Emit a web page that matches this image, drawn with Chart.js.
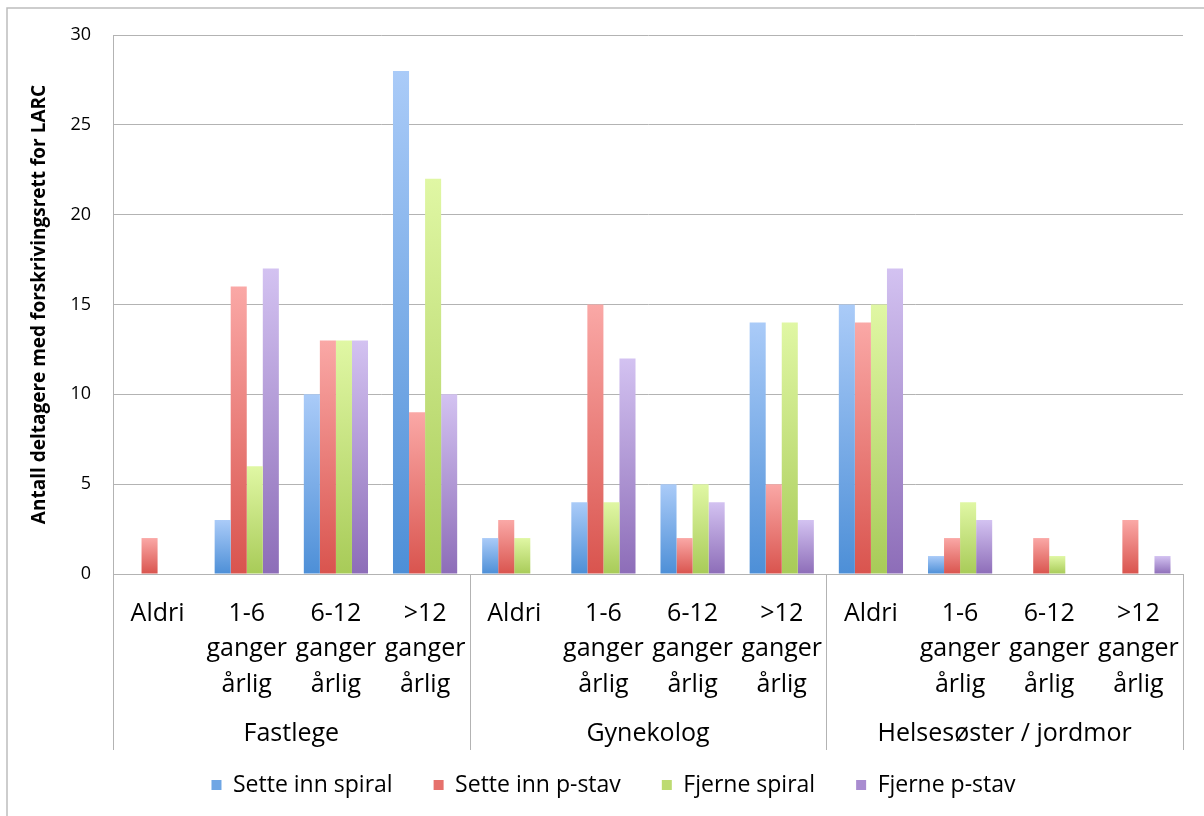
<!DOCTYPE html>
<html>
<head>
<meta charset="utf-8">
<script src="https://cdn.jsdelivr.net/npm/chart.js@4/dist/chart.umd.min.js"></script>
<style>
  html, body { margin: 0; padding: 0; background: #ffffff; }
  #wrap { width: 1204px; height: 816px; position: relative; }
  canvas { display: block; }
</style>
</head>
<body>
<div id="wrap"><canvas id="c" width="1204" height="816"></canvas></div>
<script>
// Frequency categories, repeated for each provider group
const frequencyLabels = [
  ['Aldri'], ['1-6', 'ganger', 'årlig'], ['6-12', 'ganger', 'årlig'], ['>12', 'ganger', 'årlig'],
  ['Aldri'], ['1-6', 'ganger', 'årlig'], ['6-12', 'ganger', 'årlig'], ['>12', 'ganger', 'årlig'],
  ['Aldri'], ['1-6', 'ganger', 'årlig'], ['6-12', 'ganger', 'årlig'], ['>12', 'ganger', 'årlig']
];
const groupLabels = ['Fastlege', 'Gynekolog', 'Helsesøster / jordmor'];

// Number of participants per procedure
const setteInnSpiral = [0, 3, 10, 28, 2, 4, 5, 14, 15, 1, 0, 0];
const setteInnPStav  = [2, 16, 13, 9, 3, 15, 2, 5, 14, 2, 2, 3];
const fjerneSpiral   = [0, 6, 13, 22, 2, 4, 5, 14, 15, 4, 1, 0];
const fjernePStav    = [0, 17, 13, 10, 0, 12, 4, 3, 17, 3, 0, 1];

const yTicks = [0, 5, 10, 15, 20, 25, 30];

const FONT = '"Open Sans", "Liberation Sans", sans-serif';

// light (top) / dark (bottom) / legend shades per series
const shades = {
  blue:   ['#aacbf8', '#4d8fd7', '#6fa6e4'],
  red:    ['#faa8a6', '#d9544e', '#e6716c'],
  green:  ['#e0f7a4', '#a8cb58', '#bddb72'],
  purple: ['#d3c2f1', '#8d6db8', '#a98cd0']
};

function barGradient(pair) {
  return function (ctx) {
    const chart = ctx.chart;
    if (ctx.type !== 'data') return pair[2];
    const y = chart.scales && chart.scales.y;
    const v = ctx.raw;
    if (!y || !v) return pair[2];
    const top = y.getPixelForValue(v);
    const base = y.getPixelForValue(0);
    const g = chart.ctx.createLinearGradient(0, top, 0, base);
    g.addColorStop(0, pair[0]);
    g.addColorStop(1, pair[1]);
    return g;
  };
}

// Outer frame, group separators and provider names under the category axis
const groupPlugin = {
  id: 'groupAxis',
  afterLayout(chart) {
    // centre the legend row under the whole figure rather than the padded box
    if (chart.legend) {
      chart.legend.left += 22;
      chart.legend.right += 22;
    }
  },
  beforeDraw(chart) {
    const c = chart.ctx;
    c.save();
    c.fillStyle = '#ffffff';
    c.fillRect(0, 0, chart.width, chart.height);
    c.strokeStyle = '#bdbdbd';
    c.lineWidth = 1.5;
    c.beginPath();
    c.moveTo(7, chart.height);
    c.lineTo(7, 8);
    c.lineTo(chart.width, 8);
    c.stroke();
    c.restore();
  },
  afterDraw(chart) {
    const x = chart.scales.x;
    const area = chart.chartArea;
    const c = chart.ctx;
    const step = x.getPixelForValue(1) - x.getPixelForValue(0);
    c.save();
    c.strokeStyle = '#b3b3b3';
    c.lineWidth = 1;
    const n = groupLabels.length;
    for (let g = 0; g <= n; g++) {
      const px = Math.round(x.getPixelForValue(g * 4) - step / 2) + 0.5;
      c.beginPath();
      c.moveTo(px, area.bottom);
      c.lineTo(px, 750);
      c.stroke();
    }
    c.fillStyle = '#000000';
    c.font = '25px ' + FONT;
    c.textAlign = 'center';
    c.textBaseline = 'middle';
    for (let g = 0; g < n; g++) {
      const cx = (x.getPixelForValue(g * 4) + x.getPixelForValue(g * 4 + 3)) / 2;
      c.fillText(groupLabels[g], cx, 734);
    }
    c.restore();
  }
};

new Chart(document.getElementById('c'), {
  type: 'bar',
  data: {
    labels: frequencyLabels,
    datasets: [
      { label: 'Sette inn spiral', data: setteInnSpiral, backgroundColor: barGradient(shades.blue) },
      { label: 'Sette inn p-stav', data: setteInnPStav, backgroundColor: barGradient(shades.red) },
      { label: 'Fjerne spiral', data: fjerneSpiral, backgroundColor: barGradient(shades.green) },
      { label: 'Fjerne p-stav', data: fjernePStav, backgroundColor: barGradient(shades.purple) }
    ]
  },
  options: {
    responsive: false,
    animation: false,
    layout: { padding: { top: 35, right: 21, left: 0, bottom: 9.5 } },
    datasets: { bar: { categoryPercentage: 0.72, barPercentage: 1.0 } },
    plugins: {
      tooltip: { enabled: false },
      legend: {
        position: 'bottom',
        labels: {
          font: { family: FONT, size: 23 },
          color: '#000000',
          boxWidth: 10,
          boxHeight: 10,
          padding: 41,
          generateLabels(chart) {
            const cols = [shades.blue, shades.red, shades.green, shades.purple];
            return chart.data.datasets.map((ds, i) => ({
              text: ds.label,
              fillStyle: cols[i][2],
              strokeStyle: cols[i][2],
              lineWidth: 0,
              hidden: false,
              datasetIndex: i,
              fontColor: '#000000'
            }));
          }
        }
      }
    },
    scales: {
      x: {
        grid: { display: false },
        border: { display: true, color: '#b3b3b3', width: 1 },
        ticks: {
          autoSkip: false,
          maxRotation: 0,
          minRotation: 0,
          padding: 14,
          color: '#000000',
          font: { family: FONT, size: 25, lineHeight: 1.42 }
        },
        afterFit(scale) { scale.height = 158.5; }
      },
      y: {
        min: 0,
        max: 30,
        afterBuildTicks(scale) { scale.ticks = yTicks.map(v => ({ value: v })); },
        grid: { color: '#b3b3b3', lineWidth: 1, drawTicks: false },
        border: { display: true, color: '#b3b3b3', width: 1 },
        ticks: {
          padding: 22,
          color: '#000000',
          font: { family: FONT, size: 18 }
        },
        title: {
          display: true,
          text: 'Antall deltagere med forskrivingsrett for LARC',
          color: '#000000',
          font: { family: FONT, size: 19, weight: 'bold' },
          padding: { top: 28.6, bottom: 0 }
        },
        afterFit(scale) { scale.width = 113; }
      }
    }
  },
  plugins: [groupPlugin]
});
</script>
</body>
</html>
